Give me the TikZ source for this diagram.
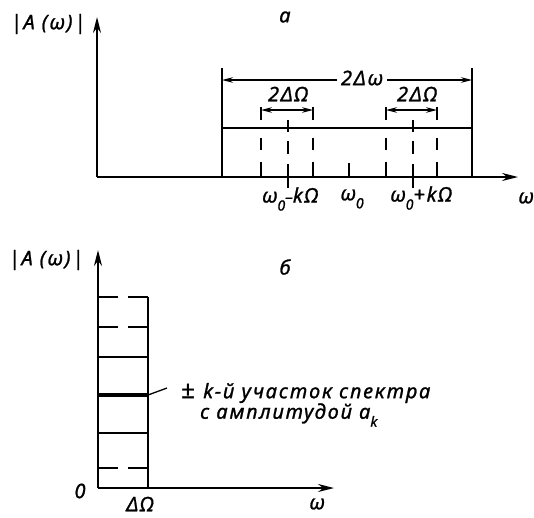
\documentclass[tikz,border=0pt]{standalone}
\usepackage{fontspec}
\setmainfont[LetterSpace=9,FakeBold=1.2]{Noto Sans}
\usetikzlibrary{arrows.meta}
\newcommand\sbz[1]{\raisebox{-0.4em}{\fontsize{14}{14}\selectfont #1}}
\begin{document}
\begin{tikzpicture}[x=1pt,y=-1pt,
 axis/.style={line width=1.7pt,-{Stealth[length=16pt,width=8pt]}},
 ln/.style={line width=1.3pt},
 thick line/.style={line width=4.5pt},
 dim/.style={line width=1.2pt,{Stealth[length=11pt,width=5.5pt]}-{Stealth[length=11pt,width=5.5pt]}},
 sideA/.style={line width=1.3pt,dash pattern=on 13pt off 18pt on 12pt off 12pt on 15pt},
 mid/.style={line width=1.3pt,dash pattern=on 12pt off 9pt on 13pt off 10pt on 24pt},
 hd/.style={line width=1.3pt,dash pattern=on 20pt off 10pt},
 lbl/.style={font=\fontsize{20}{23}\selectfont\itshape,inner sep=0pt}]
\useasboundingbox (0,0) rectangle (534,517);
% ---- panel a ----
\coordinate (O1) at (97,177);
\coordinate (Y1) at (97,17);
\coordinate (X1) at (518,177);
\draw[axis] (O1) -- (Y1);
\draw[axis] (O1) -- (X1);
\coordinate (L0) at (222,177); \coordinate (L1) at (222,68);
\coordinate (R0) at (472,177); \coordinate (R1) at (472,68);
\draw[ln] (L0) -- (L1);
\draw[ln] (R0) -- (R1);
\coordinate (T0) at (222,128); \coordinate (T1) at (472,128);
\draw[ln] (T0) -- (T1);
\coordinate (DW0) at (222,80); \coordinate (DW1) at (472,80);
\draw[dim] (DW0) -- (DW1);
\node[lbl,fill=white,inner xsep=4pt,inner ysep=2pt] (dw) at (362,78) {2Δω};
% left group
\coordinate (a1) at (261,107); \coordinate (a1b) at (261,177);
\coordinate (a2) at (313,107); \coordinate (a2b) at (313,177);
\coordinate (a3) at (288,120); \coordinate (a3b) at (288,188);
\draw[sideA] (a1) -- (a1b);
\draw[sideA] (a2) -- (a2b);
\draw[mid] (a3) -- (a3b);
\coordinate (da0) at (261,110); \coordinate (da1) at (313,110);
\draw[dim] (da0) -- (da1);
\node[lbl] (lA) at (288,94) {2Δ\textbf{Ω}};
% tick omega0
\coordinate (w0a) at (349,163); \coordinate (w0b) at (349,177);
\draw[ln] (w0a) -- (w0b);
% right group
\coordinate (b1) at (386,107); \coordinate (b1b) at (386,177);
\coordinate (b2) at (437,107); \coordinate (b2b) at (437,177);
\coordinate (b3) at (413,120); \coordinate (b3b) at (413,188);
\draw[sideA] (b1) -- (b1b);
\draw[sideA] (b2) -- (b2b);
\draw[mid] (b3) -- (b3b);
\coordinate (db0) at (386,110); \coordinate (db1) at (437,110);
\draw[dim] (db0) -- (db1);
\node[lbl] (lB) at (417,94) {2ΔΩ};
% labels
\node[lbl] (ya) at (48,24) {|A (ω)|};
\node[lbl] (ta) at (285,17) {а};
\node[lbl] (m1) at (290,199) {ω\sbz{0}{\fontsize{16}{16}\selectfont –}k\textbf{Ω}};
\node[lbl] (m2) at (352,199) {ω\sbz{0}};
\node[lbl] (m3) at (421,198) {ω\sbz{0}+kΩ};
\node[lbl] (xa) at (526,198) {ω};
% ---- panel b ----
\coordinate (O2) at (98,488);
\coordinate (Y2) at (98,250);
\coordinate (X2) at (334,488);
\draw[axis] (O2) -- (Y2);
\draw[axis] (O2) -- (X2);
\coordinate (V0) at (148,488); \coordinate (V1) at (148,297);
\draw[ln] (V0) -- (V1);
\foreach \yy/\nm in {297/h1,327/h2,468/h6}{
  \coordinate (\nm a) at (98,\yy); \coordinate (\nm b) at (148,\yy);
  \draw[hd] (\nm a) -- (\nm b);
}
\foreach \yy/\nm in {357/h3,433/h5}{
  \coordinate (\nm a) at (98,\yy); \coordinate (\nm b) at (148,\yy);
  \draw[ln] (\nm a) -- (\nm b);
}
\coordinate (h4a) at (98,395); \coordinate (h4b) at (148,395);
\draw[thick line] (h4a) -- (h4b);
\coordinate (lead) at (167,388);
\draw[ln] (h4b) -- (lead);
\node[lbl,font=\fontsize{24}{24}\selectfont] (pm) at (188,391) {±};
\node[lbl,anchor=west] (t1) at (203,393) {k-й участок спектра};
\node[lbl,anchor=west] (t2) at (200,415) {с амплитудой a\sbz{k}};
\node[lbl] (z) at (80,491) {0};
\node[lbl] (dO) at (140,504) {\textbf{ΔΩ}};
\node[lbl] (xb) at (317,504) {ω};
\node[lbl] (yb) at (46,260) {|A (ω)|};
\node[lbl] (tb) at (285,267) {б};
\end{tikzpicture}
\end{document}
